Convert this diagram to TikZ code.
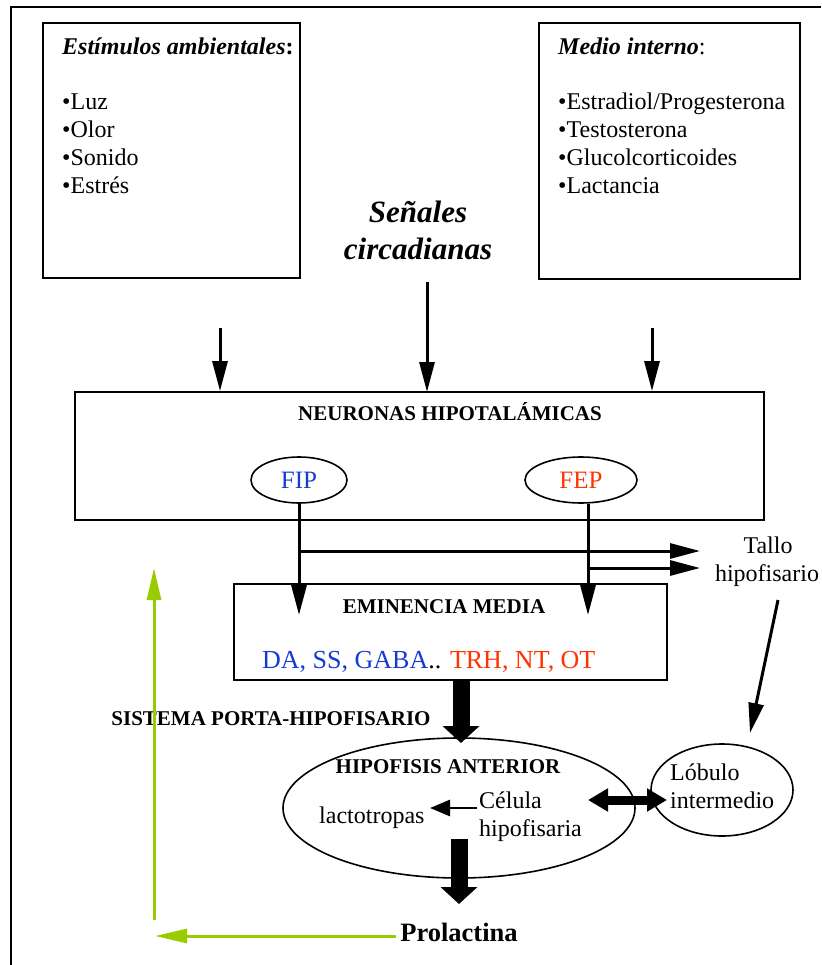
\documentclass[tikz,border=0pt]{standalone}
\usepackage{fontspec}
\setmainfont{Liberation Serif}
\usetikzlibrary{arrows.meta,shapes.geometric}
\definecolor{fipblue}{RGB}{20,60,210}
\definecolor{fepred}{RGB}{255,51,0}
\definecolor{loopgreen}{RGB}{153,204,0}

\begin{document}
\begin{tikzpicture}[x=1pt,y=-1pt,
  panel/.style={draw,line width=1.8pt,inner sep=0pt},
  oval/.style={draw,ellipse,line width=1.6pt,inner sep=0pt},
  txt/.style={inner sep=0pt,font=\fontsize{24}{28}\selectfont},
  head/.style={inner sep=0pt,font=\fontsize{21}{24}\selectfont\bfseries},
  arr/.style={line width=3pt,-{Triangle[length=30pt,width=15pt]}},
  smallarr/.style={line width=2.8pt,-{Triangle[length=20pt,width=16pt]}},
  bigarr/.style={line width=17pt,-{Triangle[length=17pt,width=36pt]}},
  dblarr/.style={line width=9pt,{Triangle[length=20pt,width=22pt]}-{Triangle[length=20pt,width=22pt]}},
  feedback/.style={draw=loopgreen,line width=3pt,-{Triangle[length=32pt,width=14pt]}}
]
\useasboundingbox (0,0) rectangle (821,965);

% outer frame (only its left and top sides fall inside the page)
\draw[line width=2pt] (11,965) -- (11,7) -- (821,7);

% input boxes
\node[panel,minimum width=257pt,minimum height=255pt] (amb) at (171.5,150.5) {};
\node[panel,minimum width=261pt,minimum height=256pt] (int) at (669.5,151) {};

\node[txt,anchor=base west] (ambt) at (62,55) {\textbf{\textit{Estímulos ambientales}:}};
\foreach \t [count=\i from 0] in {Luz,Olor,Sonido,Estrés}
  \node[txt,anchor=base west] (amb\i) at (62,110+27.7*\i) {•\t};

\node[txt,anchor=base west] (intt) at (558,55) {\textbf{\textit{Medio interno}}:};
\foreach \t [count=\i from 0] in {Estradiol/Progesterona,Testosterona,Glucolcorticoides,Lactancia}
  \node[txt,anchor=base west] (int\i) at (558,110+27.7*\i) {•\t};

% circadian signals
\node[inner sep=0pt,anchor=base,font=\fontsize{31}{37}\selectfont\bfseries\itshape] (sen1) at (418,223) {Señales};
\node[inner sep=0pt,anchor=base,font=\fontsize{31}{37}\selectfont\bfseries\itshape] (sen2) at (418,260) {circadianas};

% hypothalamic neurons
\node[panel,minimum width=689pt,minimum height=128pt] (neu) at (419.5,456) {};
\node[head,anchor=base] (neut) at (450,420) {NEURONAS HIPOTALÁMICAS};
\node[oval,minimum width=96pt,minimum height=46pt,text=fipblue,font=\fontsize{25}{28}\selectfont] (fip) at (299,480) {FIP};
\node[oval,minimum width=112pt,minimum height=46pt,text=fepred,font=\fontsize{25}{28}\selectfont] (fep) at (581,480) {FEP};

\coordinate (ambout) at (220,328);
\coordinate (intout) at (652,328);
\draw[arr] (ambout) -- (ambout |- neu.north);
\draw[arr] (427,282) -- (427,392);
\draw[arr] (intout) -- (intout |- neu.north);

% median eminence
\node[panel,minimum width=433pt,minimum height=96pt] (emi) at (450.5,632) {};
\node[head,anchor=base] (emit) at (444,613) {EMINENCIA MEDIA};
\node[inner sep=0pt,anchor=base west,font=\fontsize{26}{28}\selectfont] (emis) at (262,668)
  {{\color{fipblue}DA, SS, GABA}.. {\color{fepred}TRH, NT, OT}};

\coordinate (emitip) at (0,615);
\coordinate (fepdown) at ([xshift=7pt]fep.south);
\draw[arr] (fip.south) -- (fip.south |- emitip);
\draw[arr] (fepdown) -- (fepdown |- emitip);

% pituitary stalk
\node[txt,anchor=base] (tallo1) at (768,553) {Tallo};
\node[txt,anchor=base] (tallo2) at (767,581) {hipofisario};
\coordinate (stalk1) at (700,551);
\coordinate (stalk2) at (700,568);
\draw[arr] (fip.south |- stalk1) -- (stalk1);
\draw[arr] (fepdown |- stalk2) -- (stalk2);

% portal system
\node[head,anchor=base] (porta) at (271,725) {SISTEMA PORTA-HIPOFISARIO};
\draw[bigarr] (461,680) -- (461,743);

% anterior pituitary
\node[oval,minimum width=352pt,minimum height=140pt] (hipo) at (459,808) {};
\node[head,anchor=base] (hipot) at (448,773) {HIPOFISIS ANTERIOR};
\node[txt,anchor=base west] (lacto) at (319,823) {lactotropas};
\node[txt,anchor=base west] (cel1) at (479,808) {Célula};
\node[txt,anchor=base west] (cel2) at (479,836) {hipofisaria};
\draw[smallarr] (477,808) -- (430,808);

% intermediate lobe
\node[oval,minimum width=142pt,minimum height=92pt] (lob) at (722,790) {};
\node[txt,anchor=base west] (lob1) at (670,780) {Lóbulo};
\node[txt,anchor=base west] (lob2) at (670,808) {intermedio};
\draw[dblarr] (588,800) -- (667,800);
\draw[arr] (778,600) -- (750,733);

% prolactin and feedback loop
\draw[bigarr] (459,839) -- (459,904);
\node[inner sep=0pt,anchor=base,font=\fontsize{26.5}{30}\selectfont\bfseries] (prl) at (459,941) {Prolactina};
\draw[feedback] (396,936) -- (155,936);
\draw[feedback] (154,920) -- (154,568);
\end{tikzpicture}
\end{document}
